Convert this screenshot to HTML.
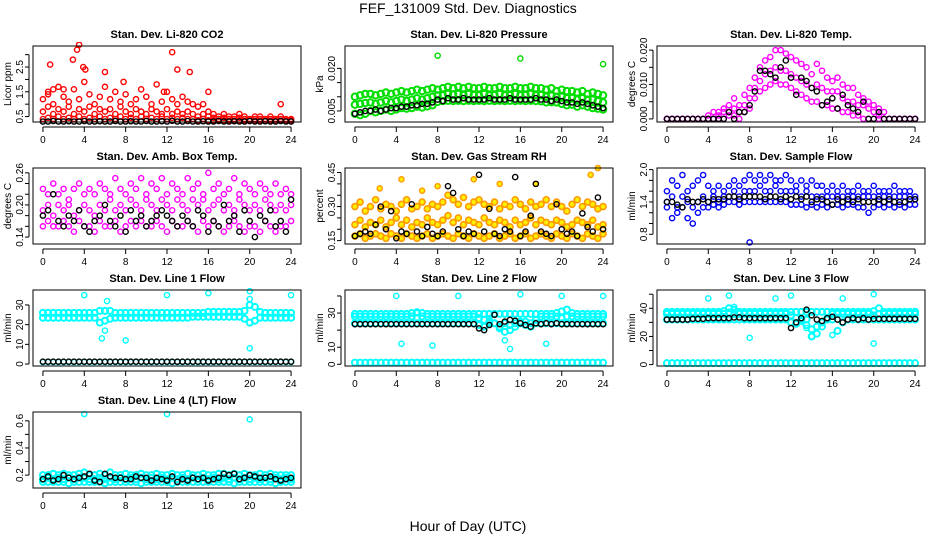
<!DOCTYPE html>
<html><head><meta charset="utf-8"><style>
html,body{margin:0;padding:0;background:#fff;}
svg{display:block;font-family:"Liberation Sans",sans-serif;}
</style></head><body>
<svg id="chart" width="936" height="540" viewBox="0 0 936 540" xmlns="http://www.w3.org/2000/svg">
<rect width="936" height="540" fill="#fff"/>
<text x="468" y="13" text-anchor="middle" font-size="14">FEF_131009  Std. Dev. Diagnostics</text>
<text x="468" y="531" text-anchor="middle" font-size="14">Hour of Day (UTC)</text>
</svg>
<script>
const hours = [0,0.5,1,1.5,2,2.5,3,3.5,4,4.5,5,5.5,6,6.5,7,7.5,8,8.5,9,9.5,10,10.5,11,11.5,12,12.5,13,13.5,14,14.5,15,15.5,16,16.5,17,17.5,18,18.5,19,19.5,20,20.5,21,21.5,22,22.5,23,23.5,24];
const xTicks = [0,4,8,12,16,20,24];

// CO2
const co2Hi = [1.2,1.5,1.0,1.7,1.3,1.1,1.6,1.2,1.9,1.4,1.0,1.3,1.7,1.2,1.5,1.1,1.4,1.0,1.2,1.6,1.3,1.0,1.8,1.1,1.5,1.2,1.0,1.3,1.1,1.0,0.9,1.0,0.7,0.6,0.5,0.6,0.5,0.5,0.6,0.5,0.4,0.5,0.5,0.4,0.5,0.4,0.5,0.4,0.4];
const co2Mid = [0.7,0.9,0.6,0.8,0.7,0.9,0.6,0.8,0.7,0.9,0.6,0.8,0.7,0.8,0.6,0.9,0.7,0.6,0.8,0.7,0.6,0.8,0.7,0.6,0.8,0.6,0.7,0.6,0.7,0.6,0.5,0.6,0.5,0.45,0.4,0.45,0.4,0.4,0.45,0.4,0.38,0.4,0.4,0.38,0.4,0.38,0.4,0.38,0.36];
const co2Lo = [0.4,0.45,0.4,0.5,0.4,0.45,0.4,0.5,0.4,0.45,0.4,0.5,0.4,0.45,0.4,0.5,0.4,0.45,0.4,0.5,0.4,0.45,0.4,0.5,0.4,0.45,0.4,0.45,0.4,0.4,0.35,0.4,0.35,0.35,0.33,0.35,0.33,0.33,0.35,0.33,0.32,0.33,0.33,0.32,0.33,0.32,0.33,0.32,0.32];
const co2OutT = [0.5,0.7,1,2,2.9,3.3,3.5,3.9,4.1,6,7.8,12.5,13,14.2,11.7,16,23];
const co2OutV = [1.4,2.6,1.6,1.6,2.8,3.2,3.4,2.5,2.4,2.3,1.9,3.1,2.4,2.3,1.5,1.5,1.0];
const co2Black = [0.3,0.3,0.32,0.3,0.3,0.31,0.3,0.3,0.32,0.3,0.3,0.31,0.3,0.3,0.32,0.3,0.3,0.31,0.3,0.3,0.32,0.3,0.3,0.31,0.3,0.33,0.3,0.3,0.32,0.3,0.3,0.31,0.3,0.3,0.32,0.3,0.3,0.31,0.3,0.3,0.32,0.3,0.3,0.31,0.3,0.3,0.32,0.3,0.3];

// Pressure
const presHi = [.010,.0105,.011,.011,.0105,.011,.0115,.011,.0115,.012,.0115,.012,.0125,.012,.0125,.013,.0125,.013,.0135,.013,.0135,.013,.0135,.013,.013,.0135,.013,.013,.0135,.013,.013,.0135,.013,.013,.0135,.013,.013,.0125,.013,.012,.0125,.012,.012,.0115,.012,.011,.0115,.011,.0105];
const presMid = [.0072,.0075,.0078,.008,.0075,.008,.0085,.008,.0085,.009,.0085,.009,.0095,.009,.0095,.010,.0105,.0105,.011,.0108,.011,.0106,.011,.0106,.0105,.011,.0105,.0106,.011,.0105,.0106,.011,.0105,.0106,.011,.0105,.0106,.010,.0104,.010,.010,.0095,.0096,.009,.0095,.009,.009,.0085,.008];
const presLo = [.004,.0035,.004,.005,.0045,.005,.0055,.005,.0055,.006,.0058,.006,.0065,.0062,.0066,.007,.0082,.0085,.0086,.0085,.0086,.0085,.0086,.0085,.0086,.0085,.0086,.0085,.0086,.0085,.0086,.0085,.0086,.0085,.0086,.0085,.0084,.008,.0081,.008,.0075,.007,.0072,.0065,.007,.0065,.006,.0058,.0055];
const presBlack = [.004,.0045,.005,.005,.0055,.005,.0055,.006,.006,.0065,.0065,.007,.007,.0075,.0075,.008,.009,.0085,.0095,.009,.009,.0095,.009,.009,.009,.009,.0095,.009,.009,.009,.0095,.009,.009,.009,.009,.0095,.009,.009,.0085,.009,.0085,.008,.008,.0075,.008,.0075,.007,.0065,.006];
const presOutT = [8,16,24];
const presOutV = [.0245,.0235,.0215];

// Li-820 temp
const tmpHi = [0,0,0,0,0,0,0,0,.001,.002,.002,.003,.004,.006,.004,.007,.009,.012,.015,.017,.018,.020,.020,.019,.018,.017,.016,.015,.013,.016,.014,.012,.011,.012,.010,.009,.009,.007,.006,.005,.004,.003,.002,0,0,0,0,0,0];
const tmpMid = [0,0,0,0,0,0,0,0,0,0,.001,.002,.002,.003,.002,.004,.006,.009,.011,.013,.014,.015,.014,.014,.013,.012,.011,.010,.009,.010,.009,.008,.008,.008,.006,.005,.005,.004,.004,.003,.002,.001,0,0,0,0,0,0,0];
const tmpLo = [0,0,0,0,0,0,0,0,0,0,0,0,.001,.001,0,.002,.003,.006,.008,.009,.010,.011,.010,.010,.009,.008,.007,.006,.005,.005,.004,.004,.003,.003,.002,.002,.001,.001,0,0,0,0,0,0,0,0,0,0,0];
const tmpBlack = [0,0,0,0,0,0,0,0,0,0,0,0,.002,0,.002,.002,.004,.008,.014,.014,.013,.012,.015,.017,.012,.007,.012,.011,.009,.008,.004,.005,.006,.003,.007,.004,.003,.002,.005,0,0,.002,0,0,0,0,0,0,0];

// Amb box temp
const ambHi = [.23,.22,.24,.22,.23,.21,.23,.24,.22,.23,.22,.24,.23,.22,.25,.23,.22,.24,.23,.25,.22,.24,.23,.25,.22,.24,.23,.22,.25,.23,.24,.22,.26,.23,.24,.22,.23,.25,.22,.24,.23,.22,.24,.23,.22,.24,.22,.23,.22];
const ambMid = [.19,.20,.18,.20,.19,.20,.18,.19,.20,.19,.18,.20,.19,.21,.19,.20,.19,.21,.20,.19,.21,.20,.19,.21,.20,.19,.21,.20,.19,.21,.20,.21,.19,.20,.21,.19,.20,.19,.21,.20,.19,.20,.19,.21,.20,.19,.20,.19,.20];
const ambLo = [.16,.17,.16,.16,.17,.16,.15,.17,.16,.16,.15,.17,.16,.16,.17,.15,.16,.17,.16,.17,.16,.16,.17,.16,.15,.17,.16,.16,.17,.16,.15,.17,.16,.17,.16,.15,.16,.17,.16,.15,.16,.16,.15,.17,.16,.15,.16,.16,.17];
const ambBlack = [.18,.19,.22,.17,.16,.18,.17,.19,.16,.15,.17,.18,.20,.17,.16,.18,.15,.19,.17,.18,.16,.17,.18,.19,.18,.17,.16,.18,.17,.16,.19,.18,.15,.17,.16,.20,.17,.18,.15,.19,.17,.14,.18,.17,.19,.16,.17,.15,.21];

// Gas stream RH
const rhHi = [.30,.32,.28,.30,.33,.29,.31,.30,.28,.31,.33,.29,.30,.32,.29,.31,.30,.32,.35,.33,.31,.34,.30,.32,.33,.31,.30,.32,.29,.31,.30,.33,.31,.29,.32,.30,.31,.33,.30,.32,.30,.28,.31,.33,.30,.32,.31,.29,.30];
const rhMid = [.22,.24,.21,.23,.22,.24,.21,.23,.25,.22,.24,.21,.23,.22,.25,.23,.22,.24,.26,.23,.25,.22,.24,.23,.22,.25,.23,.22,.24,.23,.21,.24,.22,.23,.25,.22,.24,.23,.22,.24,.23,.21,.22,.24,.23,.22,.24,.21,.22];
const rhLo = [.17,.18,.16,.17,.18,.17,.16,.18,.17,.16,.18,.17,.16,.17,.18,.16,.17,.18,.17,.16,.18,.17,.16,.18,.17,.16,.17,.18,.16,.17,.18,.16,.17,.18,.16,.17,.18,.17,.16,.18,.17,.16,.18,.17,.16,.18,.17,.16,.18];
const rhBlack = [.17,.18,.19,.18,.22,.30,.20,.28,.16,.19,.18,.31,.19,.17,.21,.18,.17,.19,.39,.36,.20,.17,.19,.18,.44,.19,.29,.18,.17,.20,.19,.43,.17,.19,.26,.40,.19,.18,.17,.31,.20,.18,.19,.17,.27,.21,.19,.34,.20];
const rhOutT = [2.4,4.5,6.5,8,11.5,14,17.5,22.8,23.5];
const rhOutV = [.38,.42,.37,.39,.42,.40,.40,.44,.47];

// Sample flow
const sfHi = [1.6,1.8,1.7,1.9,1.6,1.7,1.8,1.9,1.7,1.6,1.7,1.6,1.7,1.8,1.7,1.8,1.9,1.8,1.9,1.8,1.9,1.8,1.8,1.9,1.8,1.7,1.8,1.7,1.8,1.7,1.7,1.6,1.7,1.6,1.7,1.6,1.6,1.7,1.6,1.6,1.7,1.6,1.6,1.6,1.7,1.6,1.6,1.6,1.5];
const sfMid = [1.4,1.5,1.3,1.5,1.4,1.3,1.4,1.5,1.4,1.5,1.4,1.5,1.5,1.6,1.5,1.6,1.6,1.6,1.7,1.6,1.6,1.7,1.6,1.6,1.6,1.6,1.5,1.6,1.5,1.5,1.5,1.5,1.5,1.5,1.5,1.5,1.5,1.5,1.5,1.5,1.5,1.5,1.5,1.5,1.5,1.5,1.5,1.5,1.45];
const sfLo = [1.3,1.1,1.2,1.3,1.1,1.0,1.2,1.3,1.3,1.35,1.3,1.35,1.4,1.4,1.35,1.4,1.4,1.4,1.4,1.4,1.4,1.4,1.4,1.4,1.35,1.35,1.35,1.3,1.35,1.3,1.35,1.3,1.35,1.35,1.3,1.35,1.35,1.3,1.3,1.2,1.3,1.35,1.3,1.35,1.3,1.35,1.3,1.35,1.35];
const sfBlack = [1.4,1.4,1.35,1.3,1.45,1.4,1.4,1.45,1.4,1.45,1.45,1.45,1.5,1.5,1.45,1.5,1.5,1.5,1.5,1.45,1.5,1.5,1.45,1.5,1.45,1.5,1.45,1.5,1.4,1.45,1.45,1.4,1.35,1.45,1.4,1.45,1.4,1.45,1.4,1.4,1.4,1.45,1.4,1.45,1.4,1.4,1.4,1.45,1.45];
const sfOutT = [8];
const sfOutV = [0.65];

// Line 1 flow
const l1Hi = [26,26,26,26,26,26,26,26,26,26,26,27,27,27,26,26,26,26,26,26,26,26,26,26,26,26,26,26,26,26,26,26,26.5,26.5,26.5,26.5,26.5,26.5,26.5,27,30,29,26.5,26,26,26,26,26,26];
const l1Lo = [23.5,23.5,23.5,23.5,23.5,23.5,23.5,23.5,23.5,23.5,23.5,21,22,23,23.5,23.5,23.5,23.5,23.5,23.5,23.5,23.5,23.5,23.5,23.5,23.5,23.5,23.5,23.5,24,24,24,24,24,24,24,24,24,24,23,21,22,23.5,23.5,23.5,23.5,23.5,23.5,23.5];
const l1Zero = [1,1,1,1,1,1,1,1,1,1,1,1,1,1,1,1,1,1,1,1,1,1,1,1,1,1,1,1,1,1,1,1,1,1,1,1,1,1,1,1,1,1,1,1,1,1,1,1,1];
const l1Black = [1.2,1.2,1.2,1.2,1.2,1.2,1.2,1.2,1.2,1.2,1.2,1.2,1.2,1.2,1.2,1.2,1.2,1.2,1.2,1.2,1.2,1.2,1.2,1.2,1.2,1.2,1.2,1.2,1.2,1.2,1.2,1.2,1.2,1.2,1.2,1.2,1.2,1.2,1.2,1.2,1.2,1.2,1.2,1.2,1.2,1.2,1.2,1.2,1.2];
const l1OutT = [4,5.7,6,6.2,8,12,16,20,20,20,24];
const l1OutV = [35,13,17,32,12,35,36,37,33,8,35];

// Line 2 flow
const l2Hi = [29.5,29.5,29.5,29.5,29.5,29.5,29.5,29.5,29.5,29.5,29.5,30,30.5,30,29.5,29.5,29.5,29.5,29.5,29.5,29.5,29.5,29.5,29.5,29.5,29.5,29.5,29.5,29.5,29.5,29.5,29.5,29.5,29.5,29.5,29.5,29.5,29.5,29.5,30,31,32,30,29.5,29.5,29.5,29.5,29.5,29.5];
const l2Mid = [28,28,28,28,28,28,28,28,28,28,28,28,27,28,28,28,28,28,28,28,28,28,28,28,27,26,25,24,22,24,23,24,25,25,24,26,28,28,28,28,27,28,28,28,28,28,28,28,28];
const l2Lo = [24,24,24,24,24,24,24,24,24,24,24,24,24,24,24,24,24,24,24,24,24,24,24,24,23,22,24,24,21,19,20,22,24,23,22,24,24,24,24,24,24,24,24,24,24,24,24,24,24];
const l2Zero = [1,1,1,1,1,1,1,1,1,1,1,1,1,1,1,1,1,1,1,1,1,1,1,1,1,1,1,1,1,1,1,1,1,1,1,1,1,1,1,1,1,1,1,1,1,1,1,1,1];
const l2Black = [23.5,23.5,23.5,23.5,23.5,23.5,23.5,23.5,23.5,23.5,23.5,23.5,23.5,23.5,23.5,23.5,23.5,23.5,23.5,23.5,23.5,23.5,23.5,23.5,21,20,23,29,23.5,25,26,25.5,24,23,22,24,23.5,24,23.5,24,23.5,23.5,23.5,23.5,23.5,23.5,23.5,23.5,23.5];
const l2OutT = [4,4.5,6,7.5,10,13,14,14.5,15,16,18.5,20,24];
const l2OutV = [40,12,30,11,40,27,21,14,9,41,12,40,40];

// Line 3 flow
const l3Hi = [37.5,37.5,37.5,37.5,37.5,37.5,37.5,37.5,37.5,37.5,37.5,38,40,39,37.5,37.5,37.5,37.5,37.5,37.5,37.5,37.5,37.5,37.5,37.5,37.5,37.5,37.5,37.5,37.5,37.5,37.5,37.5,37.5,37.5,37.5,37.5,37.5,37.5,37.5,38,40,37.5,37.5,37.5,37.5,37.5,37.5,37.5];
const l3Mid = [36,36,36,36,36,36,36,36,36,36,36,36,37,36,36,36,36,36,36,36,36,36,36,36,35,33,31,28,25,27,30,33,36,36,36,36,36,36,36,36,35,36,36,36,36,36,36,36,36];
const l3Lo = [32,32,32,32,32,32,32,32,32,32,32,32,32,32,32,32,32,32,32,32,32,32,32,32,30,29,32,32,20,22,27,32,32,24,30,32,32,32,32,32,32,32,32,32,32,32,32,32,32];
const l3Zero = [1,1,1,1,1,1,1,1,1,1,1,1,1,1,1,1,1,1,1,1,1,1,1,1,1,1,1,1,1,1,1,1,1,1,1,1,1,1,1,1,1,1,1,1,1,1,1,1,1];
const l3Black = [32,32,32,32,32,32.5,32.5,32.5,33,33,33,33,33,33.5,33.5,33,33,33,33,33,33,33,33,33,26,30,33,39,35,32,31,33,34,32,30,32,33,32,33,32,32.5,32.5,32.5,32.5,32.5,32.5,32.5,32.5,32.5];
const l3OutT = [4,6,6.5,8,10.5,12,13.5,14,16,17,20,20];
const l3OutV = [47,49,41,19,47,49,26,20,21,47,50,15];

// Line 4 flow
const l4Hi = [.20,.20,.21,.20,.21,.20,.20,.21,.22,.20,.20,.21,.20,.22,.20,.20,.21,.20,.20,.21,.20,.20,.21,.20,.20,.21,.20,.20,.21,.20,.20,.21,.20,.20,.21,.21,.20,.21,.20,.21,.20,.20,.21,.20,.21,.20,.20,.20,.20];
const l4Mid = [.17,.18,.17,.18,.17,.18,.17,.18,.18,.17,.17,.18,.17,.18,.17,.18,.17,.18,.17,.18,.17,.18,.17,.18,.17,.18,.17,.18,.17,.18,.17,.18,.17,.18,.17,.18,.17,.18,.17,.18,.17,.18,.17,.18,.17,.18,.17,.18,.17];
const l4Lo = [.15,.15,.15,.15,.15,.14,.15,.15,.15,.15,.15,.15,.14,.15,.15,.15,.15,.15,.15,.14,.15,.15,.15,.15,.15,.14,.15,.15,.15,.15,.15,.15,.15,.15,.15,.15,.15,.14,.15,.15,.15,.15,.15,.15,.15,.14,.15,.15,.15];
const l4Black = [.17,.19,.16,.17,.20,.18,.17,.18,.19,.21,.16,.15,.21,.19,.18,.18,.17,.17,.19,.18,.18,.16,.18,.17,.16,.19,.15,.17,.16,.18,.17,.18,.16,.17,.18,.21,.20,.21,.17,.18,.20,.19,.18,.18,.19,.17,.16,.17,.18];
const l4OutT = [4,12,20];
const l4OutV = [.65,.65,.61];

const NS = "http://www.w3.org/2000/svg";
const svg = document.getElementById('chart');
function mk(tag, attrs, parent){
  const e = document.createElementNS(NS, tag);
  for (const k in attrs) e.setAttribute(k, attrs[k]);
  (parent||svg).appendChild(e);
  return e;
}

function panel(cfg){
  const g = mk('g', {});
  
  
  const L = 33 + 312*cfg.col, R = L + 268, T = 46 + 122*cfg.row, B = T + 76;
  const xs = v => L + (v + 0.96) * (R - L) / 25.92;
  const ys = v => B - (v - cfg.ymin) * (B - T) / (cfg.ymax - cfg.ymin);
  const title = mk('text', {x:(L+R)/2, y:T-8, 'text-anchor':'middle', 'font-size':11, 'font-weight':'bold'}, g);
  title.textContent = cfg.title;
  
  
  const yt = mk('text', {x:0, y:0, 'text-anchor':'middle', 'font-size':10, transform:`translate(${L-22},${(T+B)/2}) rotate(-90)`}, g);
  yt.textContent = cfg.ylab;
  
  
  const clip = 'c' + cfg.row + cfg.col;
  const cp = mk('clipPath', {id: clip}, g);
  mk('rect', {x:L, y:T-4, width:R-L, height:B-T+8}, cp);
  const pg = mk('g', {'clip-path':`url(#${clip})`}, g);
  cfg.series.forEach(s => {
    const sg = mk('g', {}, pg);
    
    
    s.v.forEach((v, i) => {
      const c = mk('circle', {cx: xs(s.t[i]), cy: ys(v), r: s.r || 2.6, fill: s.fill || 'none', stroke: s.c, 'stroke-width': s.w || 1.4}, sg);
      
      
    });
  });
  mk('rect', {x:L, y:T, width:R-L, height:B-T, fill:'none', stroke:'#000', 'stroke-width':1}, g);
  const xa = mk('g', {}, g);
  
  
  mk('line', {x1:xs(xTicks[0]), x2:xs(xTicks[xTicks.length-1]), y1:B+5, y2:B+5, stroke:'#000'}, xa);
  xTicks.forEach(t => {
    mk('line', {x1:xs(t), x2:xs(t), y1:B+5, y2:B+10, stroke:'#000'}, xa);
    const tx = mk('text', {x:xs(t), y:B+21, 'text-anchor':'middle', 'font-size':10}, xa);
    tx.textContent = t;
    
    
  });
  const ya = mk('g', {}, g);
  
  
  mk('line', {x1:L-4, x2:L-4, y1:ys(cfg.yticks[0]), y2:ys(cfg.yticks[cfg.yticks.length-1]), stroke:'#000'}, ya);
  cfg.yticks.forEach((t, i) => {
    mk('line', {x1:L-4, x2:L-8, y1:ys(t), y2:ys(t), stroke:'#000'}, ya);
    if (cfg.ylabels[i]) {
      const tx = mk('text', {x:0, y:0, 'text-anchor':'middle', 'font-size':10, transform:`translate(${L-10},${ys(t)}) rotate(-90)`}, ya);
      tx.textContent = cfg.ylabels[i];
      
      
    }
  });
}
const H = hours;
panel({name:'panel-co2', title:'Stan. Dev. Li-820 CO2', ylab:'Licor ppm', row:0, col:0, ymin:0.28, ymax:3.35,
  yticks:[0.5,1,1.5,2,2.5,3], ylabels:['0.5','','1.5','','2.5',''],
  series:[{name:'co2-hi',t:H,v:co2Hi,c:'#ff0000'},{name:'co2-mid',t:H,v:co2Mid,c:'#ff0000'},{name:'co2-lo',t:H,v:co2Lo,c:'#ff0000'},{name:'co2-outliers',t:co2OutT,v:co2OutV,c:'#ff0000'},{name:'co2-black',t:H,v:co2Black,c:'#000'}]});
panel({name:'panel-pressure', title:'Stan. Dev. Li-820 Pressure', ylab:'kPa', row:0, col:1, ymin:0.0011, ymax:0.0279,
  yticks:[0.005,0.01,0.015,0.02], ylabels:['0.005','','','0.020'],
  series:[{name:'pres-hi',t:H,v:presHi,c:'#00dd00',r:3.2,w:2},{name:'pres-mid',t:H,v:presMid,c:'#00dd00',r:3.2,w:2},{name:'pres-lo',t:H,v:presLo,c:'#00dd00',r:3.2,w:2},{name:'pres-outliers',t:presOutT,v:presOutV,c:'#00dd00'},{name:'pres-black',t:H,v:presBlack,c:'#000'}]});
panel({name:'panel-temp', title:'Stan. Dev. Li-820 Temp.', ylab:'degrees C', row:0, col:2, ymin:-0.0009, ymax:0.0212,
  yticks:[0,0.005,0.01,0.015,0.02], ylabels:['0.000','','0.010','','0.020'],
  series:[{name:'temp-hi',t:H,v:tmpHi,c:'#ff00ff'},{name:'temp-mid',t:H,v:tmpMid,c:'#ff00ff'},{name:'temp-lo',t:H,v:tmpLo,c:'#ff00ff'},{name:'temp-black',t:H,v:tmpBlack,c:'#000'}]});
panel({name:'panel-amb-box', title:'Stan. Dev. Amb. Box Temp.', ylab:'degrees C', row:1, col:0, ymin:0.127, ymax:0.269,
  yticks:[0.14,0.16,0.18,0.2,0.22,0.24,0.26], ylabels:['0.14','','','0.20','','','0.26'],
  series:[{name:'amb-hi',t:H,v:ambHi,c:'#ff00ff'},{name:'amb-mid',t:H,v:ambMid,c:'#ff00ff'},{name:'amb-lo',t:H,v:ambLo,c:'#ff00ff'},{name:'amb-black',t:H,v:ambBlack,c:'#000'}]});
panel({name:'panel-rh', title:'Stan. Dev. Gas Stream RH', ylab:'percent', row:1, col:1, ymin:0.135, ymax:0.47,
  yticks:[0.15,0.2,0.25,0.3,0.35,0.4,0.45], ylabels:['0.15','','','0.30','','','0.45'],
  series:[{name:'rh-hi',t:H,v:rhHi,c:'#ff9900',fill:'#ffee00',r:3,w:1.6},{name:'rh-mid',t:H,v:rhMid,c:'#ff9900',fill:'#ffee00',r:3,w:1.6},{name:'rh-lo',t:H,v:rhLo,c:'#ff9900',fill:'#ffee00',r:3,w:1.6},{name:'rh-outliers',t:rhOutT,v:rhOutV,c:'#ff9900',fill:'#ffee00'},{name:'rh-black',t:H,v:rhBlack,c:'#000'}]});
panel({name:'panel-sample-flow', title:'Stan. Dev. Sample Flow', ylab:'ml/min', row:1, col:2, ymin:0.62, ymax:2.03,
  yticks:[0.8,1,1.2,1.4,1.6,1.8,2], ylabels:['0.8','','','1.4','','','2.0'],
  series:[{name:'sf-hi',t:H,v:sfHi,c:'#0000ff'},{name:'sf-mid',t:H,v:sfMid,c:'#0000ff'},{name:'sf-lo',t:H,v:sfLo,c:'#0000ff'},{name:'sf-outliers',t:sfOutT,v:sfOutV,c:'#0000ff'},{name:'sf-black',t:H,v:sfBlack,c:'#000'}]});
panel({name:'panel-line1', title:'Stan. Dev. Line 1 Flow', ylab:'ml/min', row:2, col:0, ymin:-1, ymax:37.6,
  yticks:[0,10,20,30], ylabels:['0','10','20','30'],
  series:[{name:'l1-hi',t:H,v:l1Hi,c:'#00ffff',r:3,w:2},{name:'l1-lo',t:H,v:l1Lo,c:'#00ffff',r:3,w:2},{name:'l1-zero',t:H,v:l1Zero,c:'#00ffff'},{name:'l1-outliers',t:l1OutT,v:l1OutV,c:'#00ffff'},{name:'l1-black',t:H,v:l1Black,c:'#000'}]});
panel({name:'panel-line2', title:'Stan. Dev. Line 2 Flow', ylab:'ml/min', row:2, col:1, ymin:-1, ymax:43.5,
  yticks:[0,10,20,30,40], ylabels:['0','10','','30',''],
  series:[{name:'l2-hi',t:H,v:l2Hi,c:'#00ffff',r:3,w:2},{name:'l2-mid',t:H,v:l2Mid,c:'#00ffff',r:3,w:2},{name:'l2-lo',t:H,v:l2Lo,c:'#00ffff',r:3,w:2},{name:'l2-zero',t:H,v:l2Zero,c:'#00ffff',r:3,w:2},{name:'l2-outliers',t:l2OutT,v:l2OutV,c:'#00ffff'},{name:'l2-black',t:H,v:l2Black,c:'#000'}]});
panel({name:'panel-line3', title:'Stan. Dev. Line 3 Flow', ylab:'ml/min', row:2, col:2, ymin:-1, ymax:53,
  yticks:[0,10,20,30,40,50], ylabels:['0','','20','','40',''],
  series:[{name:'l3-hi',t:H,v:l3Hi,c:'#00ffff',r:3,w:2},{name:'l3-mid',t:H,v:l3Mid,c:'#00ffff',r:3,w:2},{name:'l3-lo',t:H,v:l3Lo,c:'#00ffff',r:3,w:2},{name:'l3-zero',t:H,v:l3Zero,c:'#00ffff',r:3,w:2},{name:'l3-outliers',t:l3OutT,v:l3OutV,c:'#00ffff'},{name:'l3-black',t:H,v:l3Black,c:'#000'}]});
panel({name:'panel-line4', title:'Stan. Dev. Line 4 (LT) Flow', ylab:'ml/min', row:3, col:0, ymin:0.105, ymax:0.665,
  yticks:[0.2,0.3,0.4,0.5,0.6], ylabels:['0.2','','0.4','','0.6'],
  series:[{name:'l4-hi',t:H,v:l4Hi,c:'#00ffff',r:3,w:2},{name:'l4-mid',t:H,v:l4Mid,c:'#00ffff',r:3,w:2},{name:'l4-lo',t:H,v:l4Lo,c:'#00ffff',r:3,w:2},{name:'l4-outliers',t:l4OutT,v:l4OutV,c:'#00ffff'},{name:'l4-black',t:H,v:l4Black,c:'#000'}]});
</script>
</body></html>
